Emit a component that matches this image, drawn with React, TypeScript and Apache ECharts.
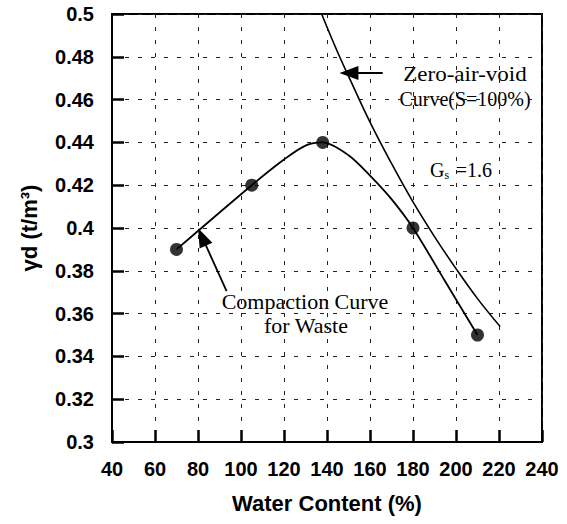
import React, { useEffect, useRef } from "react";
import * as echarts from "echarts";

// Measured compaction points (water content %, dry density t/m3)
const compactionPoints: [number, number][] = [
  [70, 0.39],
  [105, 0.42],
  [138, 0.44],
  [180, 0.4],
  [210, 0.35],
];

// Fitted compaction curve
const compactionCurve: [number, number][] = [
  [70, 0.39],
  [105, 0.42],
  [120, 0.432],
  [130, 0.4385],
  [138, 0.44],
  [150, 0.434],
  [160, 0.4245],
  [170, 0.4135],
  [180, 0.4],
  [195, 0.375],
  [210, 0.35],
];

// Zero-air-void curve (S=100%, Gs=1.6)
const zeroAirVoidCurve: [number, number][] = [
  [137.5, 0.5],
  [145, 0.482],
  [150, 0.471],
  [160, 0.4495],
  [170, 0.4302],
  [180, 0.4122],
  [190, 0.396],
  [200, 0.381],
  [210, 0.367],
  [220.5, 0.354],
];

// Annotation arrows: [tail, head]
const zeroAirArrow: [number, number][] = [
  [165.9, 0.4724],
  [150.2, 0.4724],
];
const compactionArrow: [number, number][] = [
  [93.3, 0.3705],
  [81.9, 0.3958],
];

const xMin = 40;
const xMax = 240;
const xInterval = 20;
const yMin = 0.3;
const yMax = 0.5;
const yInterval = 0.02;

const xName = "Water Content (%)";
const yName = "γd (t/m³)";

const FONT = "'Liberation Sans', Arial, sans-serif";
const SERIF = "'Liberation Serif', 'Times New Roman', serif";

export default function App() {
  const ref = useRef<HTMLDivElement>(null);

  useEffect(() => {
    if (!ref.current) return;
    const chart = echarts.init(ref.current, null, { renderer: "svg" });

    const arrowLine = (pts: [number, number][]) => [
      { coord: pts[0], symbol: "none" },
      { coord: pts[1], symbol: "triangle", symbolSize: [14, 19] },
    ];

    const option: any = {
      animation: false,
      backgroundColor: "#fff",
      grid: {
        left: 112,
        right: 25,
        top: 14,
        bottom: 82,
        show: true,
        borderColor: "#000",
        borderWidth: 2,
      },
      xAxis: {
        type: "value",
        min: xMin,
        max: xMax,
        interval: xInterval,
        name: xName,
        nameLocation: "middle",
        nameGap: 50,
        nameTextStyle: {
          fontFamily: FONT,
          fontWeight: "bold",
          fontSize: 22,
          color: "#000",
        },
        axisLine: { show: true, lineStyle: { color: "#000", width: 2 } },
        axisTick: {
          show: true,
          inside: true,
          length: 12,
          lineStyle: { color: "#000", width: 2.5 },
        },
        axisLabel: {
          margin: 17,
          fontFamily: FONT,
          fontWeight: "bold",
          fontSize: 20,
          color: "#000",
        },
        splitLine: {
          show: true,
          lineStyle: { color: "#222", width: 1, type: [4, 9] },
        },
      },
      yAxis: {
        type: "value",
        min: yMin,
        max: yMax,
        interval: yInterval,
        name: yName,
        nameLocation: "middle",
        nameGap: 72,
        nameRotate: 90,
        nameTextStyle: {
          fontFamily: FONT,
          fontWeight: "bold",
          fontSize: 22,
          color: "#000",
        },
        axisLine: { show: true, lineStyle: { color: "#000", width: 2 } },
        axisTick: {
          show: true,
          inside: true,
          length: 12,
          lineStyle: { color: "#000", width: 2.5 },
        },
        axisLabel: {
          margin: 18,
          fontFamily: FONT,
          fontWeight: "bold",
          fontSize: 20,
          color: "#000",
          formatter: (v: number) => String(parseFloat(v.toFixed(2))),
        },
        splitLine: {
          show: true,
          lineStyle: { color: "#222", width: 1, type: [4, 9] },
        },
      },
      series: [
        {
          type: "line",
          name: "Zero-air-void",
          data: zeroAirVoidCurve,
          smooth: 0.4,
          showSymbol: false,
          symbol: "none",
          lineStyle: { color: "#000", width: 1.6 },
          silent: true,
        },
        {
          type: "line",
          name: "Compaction curve",
          data: compactionCurve,
          smooth: 0.3,
          showSymbol: false,
          symbol: "none",
          lineStyle: { color: "#000", width: 1.8 },
          silent: true,
          markLine: {
            silent: true,
            animation: false,
            label: { show: false },
            lineStyle: { color: "#000", width: 1.8, type: "solid" },
            data: [arrowLine(zeroAirArrow), arrowLine(compactionArrow)],
          },
        },
        {
          type: "scatter",
          name: "Measured",
          data: compactionPoints,
          symbol: "circle",
          symbolSize: 13,
          itemStyle: { color: "#000" },
          silent: true,
          z: 5,
        },
      ],
      graphic: [
        {
          type: "text",
          x: 465,
          y: 75,
          scaleX: 1.15,
          style: {
            text: "Zero-air-void",
            font: `20px ${SERIF}`,
            fill: "#000",
            textAlign: "center",
            textVerticalAlign: "middle",
          },
        },
        {
          type: "text",
          x: 465,
          y: 99,
          scaleX: 1.0,
          style: {
            text: "Curve(S=100%)",
            font: `20px ${SERIF}`,
            fill: "#000",
            textAlign: "center",
            textVerticalAlign: "middle",
          },
        },
        {
          type: "text",
          x: 430,
          y: 170,
          style: {
            text: "{g|G}{s|s}  {g|=1.6}",
            fill: "#000",
            textAlign: "left",
            textVerticalAlign: "middle",
            rich: {
              g: { font: `20px ${SERIF}`, fill: "#000" },
              s: {
                font: `12px ${SERIF}`,
                fill: "#000",
                padding: [9, 0, 0, 0],
              },
            },
          },
        },
        {
          type: "text",
          x: 305,
          y: 302,
          scaleX: 1.1,
          style: {
            text: "Compaction Curve",
            font: `20px ${SERIF}`,
            fill: "#000",
            textAlign: "center",
            textVerticalAlign: "middle",
          },
        },
        {
          type: "text",
          x: 306,
          y: 326,
          scaleX: 1.1,
          style: {
            text: "for Waste",
            font: `20px ${SERIF}`,
            fill: "#000",
            textAlign: "center",
            textVerticalAlign: "middle",
          },
        },
      ],
    };

    chart.setOption(option);
    return () => chart.dispose();
  }, []);

  return (
    <div
      ref={ref}
      style={{
        position: "fixed",
        left: 0,
        top: 0,
        width: 567,
        height: 524,
        background: "#fff",
      }}
    />
  );
}
